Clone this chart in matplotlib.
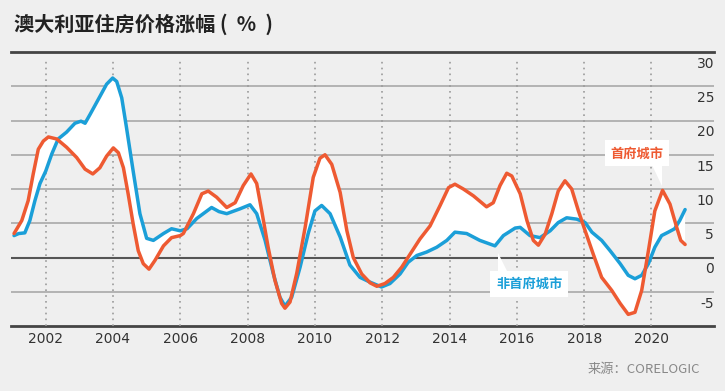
import numpy as np
import matplotlib
matplotlib.use("Agg")
import matplotlib.pyplot as plt
from matplotlib.patches import Polygon

plt.rcParams['font.family'] = ['Noto Sans CJK SC', 'DejaVu Sans']

# capital cities (orange) vs regional (blue), annual change in %
cap_years = [2001.06, 2001.29, 2001.48, 2001.63, 2001.78, 2001.93, 2002.08, 2002.33, 2002.62, 2002.92,
             2003.17, 2003.4, 2003.61, 2003.81, 2004.01, 2004.16, 2004.31, 2004.45, 2004.6, 2004.75,
             2004.9, 2005.07, 2005.25, 2005.5, 2005.74, 2006.0, 2006.09, 2006.39, 2006.64, 2006.83,
             2007.08, 2007.38, 2007.63, 2007.87, 2008.1, 2008.27, 2008.42, 2008.61, 2008.81, 2009.01,
             2009.11, 2009.26, 2009.46, 2009.71, 2009.95, 2010.15, 2010.3, 2010.5, 2010.75, 2010.95,
             2011.14, 2011.39, 2011.64, 2011.84, 2012.08, 2012.33, 2012.58, 2012.83, 2013.12, 2013.42,
             2013.72, 2013.97, 2014.16, 2014.41, 2014.71, 2015.1, 2015.3, 2015.5, 2015.7, 2015.85,
             2016.1, 2016.3, 2016.49, 2016.64, 2016.84, 2017.04, 2017.23, 2017.43, 2017.63, 2017.83,
             2018.03, 2018.27, 2018.52, 2018.82, 2019.07, 2019.31, 2019.51, 2019.71, 2019.91, 2020.1,
             2020.33, 2020.55, 2020.75, 2020.87, 2021.0]
cap_vals = [3.5, 5.4, 8.3, 12.2, 15.8, 17.0, 17.6, 17.3, 16.1, 14.6,
            12.9, 12.2, 13.1, 14.8, 16.0, 15.3, 13.1, 9.3, 4.9, 1.0,
            -0.9, -1.7, -0.4, 1.7, 2.9, 3.2, 3.5, 6.4, 9.3, 9.7,
            8.8, 7.3, 8.0, 10.5, 12.2, 10.8, 6.8, 1.5, -3.3, -6.7,
            -7.4, -6.5, -2.3, 4.4, 11.7, 14.5, 15.0, 13.6, 9.5, 3.9,
            0.0, -2.4, -3.7, -4.2, -3.8, -2.9, -1.4, 0.5, 2.7, 4.6,
            7.6, 10.2, 10.7, 10.0, 9.0, 7.4, 8.0, 10.5, 12.3, 11.9,
            9.3, 5.4, 2.5, 1.8, 3.4, 6.4, 9.7, 11.2, 10.0, 6.8,
            3.9, 0.5, -2.9, -4.8, -6.7, -8.3, -8.0, -4.8, 1.0, 6.8,
            9.8, 7.8, 4.4, 2.5, 1.9]

reg_years = [2001.06, 2001.2, 2001.38, 2001.53, 2001.68, 2001.83, 2002.0, 2002.18, 2002.37, 2002.62,
             2002.87, 2003.05, 2003.17, 2003.32, 2003.61, 2003.81, 2003.99, 2004.11, 2004.26, 2004.4,
             2004.6, 2004.8, 2005.0, 2005.2, 2005.5, 2005.74, 2006.0, 2006.2, 2006.49, 2006.93,
             2007.15, 2007.38, 2007.77, 2008.07, 2008.27, 2008.52, 2008.76, 2008.96, 2009.11, 2009.31,
             2009.56, 2009.8, 2010.0, 2010.2, 2010.45, 2010.75, 2011.04, 2011.34, 2011.64, 2011.98,
             2012.23, 2012.53, 2012.77, 2013.03, 2013.32, 2013.62, 2013.92, 2014.16, 2014.51, 2014.9,
             2015.35, 2015.6, 2015.95, 2016.1, 2016.39, 2016.69, 2016.99, 2017.23, 2017.48, 2017.78,
             2018.03, 2018.23, 2018.52, 2018.77, 2019.07, 2019.31, 2019.51, 2019.71, 2019.91, 2020.1,
             2020.3, 2020.5, 2020.69, 2020.84, 2021.0]
reg_vals = [3.2, 3.5, 3.6, 5.4, 8.3, 10.8, 12.6, 15.1, 17.3, 18.3,
            19.6, 19.9, 19.6, 20.9, 23.5, 25.3, 26.2, 25.7, 23.3, 19.0,
            12.6, 6.4, 2.8, 2.5, 3.5, 4.2, 3.9, 4.2, 5.7, 7.3,
            6.7, 6.4, 7.1, 7.7, 6.4, 2.5, -2.3, -5.8, -7.1, -5.8,
            -1.4, 3.5, 6.8, 7.6, 6.4, 3.0, -1.1, -2.9, -3.6, -4.3,
            -3.8, -2.4, -0.7, 0.3, 0.8, 1.5, 2.5, 3.7, 3.5, 2.5,
            1.7, 3.2, 4.3, 4.4, 3.2, 2.9, 3.9, 5.1, 5.8, 5.6,
            5.1, 3.7, 2.5, 1.0, -0.9, -2.6, -3.1, -2.6, -0.9, 1.5,
            3.2, 3.7, 4.2, 5.4, 7.0]

year_ticks = [2002, 2004, 2006, 2008, 2010, 2012, 2014, 2016, 2018, 2020]
y_ticks = [-5, 0, 5, 10, 15, 20, 25, 30]

ORANGE = '#ee5a32'
BLUE = '#1b9fd8'
BG = '#efefef'

fig = plt.figure(figsize=(7.25, 3.91), dpi=100, facecolor=BG)
ax = fig.add_axes([0.0152, 0.1662, 0.9697, 0.7008])
ax.set_facecolor(BG)
ax.set_xlim(2000.97, 2021.86)
ax.set_ylim(-10, 30)
for s in ax.spines.values():
    s.set_visible(False)
ax.set_xticks([])
ax.set_yticks([])

# horizontal grid
for v in [-5, 5, 10, 15, 20, 25]:
    ax.axhline(v, color='#a3a3a3', lw=1.1, zorder=1)
ax.axhline(0, color='#555555', lw=1.5, zorder=1)
ax.axhline(30, color='#444444', lw=2, zorder=1, clip_on=False)
ax.axhline(-10, color='#444444', lw=2, zorder=1, clip_on=False)

# dotted year lines
ax.vlines(year_ticks, -10, 29.1, colors='#9a9a9a', linestyles=(0, (1, 2.5)), lw=1.2, zorder=1)

# white band between the two series
bx = np.array(reg_years)
by = np.array(reg_vals)
ox = np.array(cap_years)
oy = np.array(cap_vals)
ax.fill(np.r_[bx, ox[::-1]], np.r_[by, oy[::-1]], color='white', lw=0, zorder=2)

ax.plot(reg_years, reg_vals, color=BLUE, lw=2.5, solid_joinstyle='round',
        solid_capstyle='round', zorder=4)
ax.plot(cap_years, cap_vals, color=ORANGE, lw=2.5, solid_joinstyle='round',
        solid_capstyle='round', zorder=5)

# y labels sit just below their grid lines on the right
for v in y_ticks:
    ax.text(1.0, v - 0.7, str(v), transform=ax.get_yaxis_transform(), ha='right', va='top',
            fontsize=10, color='#333333', family='DejaVu Sans')

for yr in year_ticks:
    ax.text(yr, -10.9, str(yr), ha='center', va='top', fontsize=10, color='#333333',
            family='DejaVu Sans')

# callouts
ax.add_patch(Polygon([[2020.02, 13.5], [2020.32, 13.5], [2020.32, 10.4]], closed=True,
                     facecolor='white', edgecolor='none', zorder=3))
ax.text(2019.57, 15.2, '首府城市', ha='center', va='center', fontsize=9.5, fontweight='bold',
        color=ORANGE, zorder=6,
        bbox=dict(boxstyle='square,pad=0.45', facecolor='white', edgecolor='none'))

ax.add_patch(Polygon([[2015.44, 0.6], [2015.44, -2.3], [2015.75, -2.3]], closed=True,
                     facecolor='white', edgecolor='none', zorder=3))
ax.text(2016.37, -3.9, '非首府城市', ha='center', va='center', fontsize=9.5, fontweight='bold',
        color=BLUE, zorder=6,
        bbox=dict(boxstyle='square,pad=0.45', facecolor='white', edgecolor='none'))

fig.text(0.019, 0.938, '澳大利亚住房价格涨幅 (  %  )', ha='left', va='center', fontsize=14.5,
         fontweight='bold', color='#222222')
fig.text(0.966, 0.054, '来源：CORELOGIC', ha='right', va='center', fontsize=9.5, color='#888888')

fig.savefig('out.png', dpi=100, facecolor=BG)
